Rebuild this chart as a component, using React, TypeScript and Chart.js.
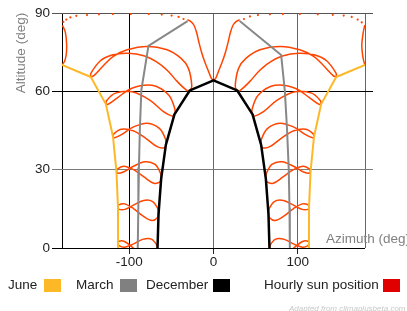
import React, { useEffect, useRef } from 'react';
import { Chart, registerables } from 'chart.js';

Chart.register(...registerables);

type P = [number, number];

const FONT = "'Liberation Sans', Arial, Helvetica, sans-serif";
const RED = '#ff4500';

// axis ticks
const xTicks = [-180, -100, 0, 100, 180];
const yTicks = [0, 30, 60, 90];

// solstice / equinox day paths (azimuth deg, altitude deg)
const juneMorning: P[] = [[-180, 70.1], [-145.8, 65.5], [-127.9, 55.1], [-119.4, 42.6], [-115.3, 29.2], [-113.5, 15.6], [-113.4, 1.8], [-113.4, 0]];
const juneAfternoon: P[] = [[180, 70.1], [145.8, 65.5], [127.9, 55.1], [119.4, 42.6], [115.3, 29.2], [113.5, 15.6], [113.4, 1.8], [113.4, 0]];
const marchMorning: P[] = [[-30.8, 86.9], [-77.3, 77.4], [-85.7, 60.5], [-87.5, 45.5], [-88.6, 30.6], [-89.3, 15.6], [-90, 0]];
const marchAfternoon: P[] = [[31.1, 86.9], [80.4, 73.9], [84.8, 60.0], [87.4, 45.2], [89.4, 30.2], [90.3, 15.2], [90.7, 0]];
const decemberPath: P[] = [[-66.5, 0], [-65.3, 13.1], [-62.2, 26.5], [-56.6, 39.5], [-46.4, 51.2], [-28.0, 60.4], [0, 64.2], [28.0, 60.4], [46.4, 51.2], [56.6, 39.5], [62.2, 26.5], [65.3, 13.1], [66.5, 0]];

// hourly analemmas, morning
const loop06: P[] = [[-113.4, 1.8], [-112.2, 0.9], [-105.5, 0.3], [-95.6, 1.5], [-84.1, 3.3], [-73.8, 3.4], [-67.4, 1.1], [-66.6, -0.6], [-67.5, -2.1], [-73.9, -3.9], [-84.3, -2.7], [-95.6, 0.1], [-105.8, 2.5], [-112.3, 2.6], [-113.4, 1.8]];
const loop07: P[] = [[-113.5, 15.6], [-112.2, 14.8], [-105.3, 14.8], [-95.1, 16.4], [-83.1, 18.2], [-72.3, 17.8], [-65.9, 14.9], [-65.3, 13.1], [-66.3, 11.7], [-73.0, 10.5], [-83.5, 12.2], [-95.1, 15.1], [-105.7, 16.9], [-112.5, 16.5], [-113.5, 15.6]];
const loop08: P[] = [[-115.3, 29.2], [-113.8, 28.6], [-106.3, 29.2], [-95.0, 31.3], [-81.5, 33.0], [-69.4, 32.0], [-62.7, 28.4], [-62.2, 26.5], [-63.5, 25.3], [-70.9, 24.8], [-82.2, 27.1], [-95.0, 30.0], [-106.9, 31.3], [-114.2, 30.2], [-115.3, 29.2]];
const loop09: P[] = [[-119.4, 42.6], [-117.6, 42.2], [-108.8, 43.5], [-95.5, 46.3], [-78.7, 47.8], [-64.0, 45.7], [-56.7, 41.4], [-56.6, 39.5], [-58.3, 38.4], [-66.9, 38.8], [-80.0, 41.9], [-95.4, 44.9], [-109.8, 45.5], [-118.4, 43.7], [-119.4, 42.6]];
const loop10: P[] = [[-127.9, 55.1], [-125.5, 55.0], [-114.7, 57.4], [-97.0, 61.2], [-72.8, 62.3], [-53.3, 58.6], [-45.8, 53.1], [-46.4, 51.2], [-48.9, 50.5], [-59.4, 52.2], [-75.7, 56.6], [-96.7, 59.8], [-116.6, 59.3], [-127.1, 56.4], [-127.9, 55.1]];
const loop11: P[] = [[-145.8, 65.5], [-142.5, 65.9], [-129.8, 70.2], [-119.0, 73.4], [-102.6, 75.9], [-79.4, 77.2], [-55.1, 75.9], [-38.5, 72.6], [-29.8, 68.8], [-25.8, 62.1], [-28.0, 60.4], [-31.4, 60.3], [-43.8, 64.0], [-53.0, 67.4], [-65.0, 70.7], [-81.8, 73.5], [-101.6, 74.6], [-120.7, 73.9], [-134.4, 71.7], [-145.7, 66.9], [-145.8, 65.5]];

// noon analemma pieces
const noonLeftInner: P[] = [[0, 64.2], [-2.6, 65.0], [-6.3, 68.0], [-10.2, 71.1], [-14.2, 75.0], [-17.5, 79.0], [-20.3, 82.8], [-23.5, 85.5], [-27.5, 86.9], [-31.0, 87.4]];
const noonRightInner: P[] = [[0, 64.2], [2.6, 65.0], [6.3, 68.0], [10.2, 71.1], [14.2, 75.0], [17.5, 79.0], [20.3, 82.8], [23.5, 85.5], [27.5, 86.9], [31.1, 87.4]];
const noonLeftEdge: P[] = [[-180, 70.1], [-177, 71.4], [-175, 74.0], [-174.5, 77.9], [-176, 82.6], [-179.5, 85.3]];
const noonRightEdge: P[] = [[180, 70.1], [178.7, 71.4], [177.2, 73.8], [176.2, 77.7], [177.8, 82.4], [179.8, 85.4]];
const topDotsLeft: P[] = [[-178.4, 86.6], [-174.9, 87.5], [-170.1, 88.3], [-163, 88.9], [-150.3, 89.2], [-136.1, 89.5], [-119.5, 89.6], [-98.2, 89.6], [-76.9, 89.6], [-61.5, 89.4], [-49.8, 89.0], [-41.5, 88.5], [-35.6, 87.7]];
const topDotsRight: P[] = [[36.2, 87.7], [43.3, 88.7], [52.8, 89.2], [67, 89.5], [82.4, 89.6], [102.6, 89.6], [123.9, 89.5], [141.7, 89.3], [154.7, 89.0], [164.2, 88.5], [171.3, 87.5], [176.1, 86.4]];

// hourly analemmas, afternoon
const loop13: P[] = [[145.8, 65.5], [142.5, 65.9], [129.8, 70.2], [119.0, 73.4], [102.6, 75.9], [79.4, 77.2], [55.1, 75.9], [38.5, 72.6], [29.8, 68.8], [25.8, 62.1], [28.0, 60.4], [31.4, 60.3], [43.8, 64.0], [53.0, 67.4], [65.0, 70.7], [81.8, 73.5], [101.6, 74.6], [120.7, 73.9], [134.4, 71.7], [145.7, 66.9], [145.8, 65.5]];
const loop14: P[] = [[127.9, 55.1], [125.5, 55.0], [114.7, 57.4], [97.0, 61.2], [72.8, 62.3], [53.3, 58.6], [45.8, 53.1], [46.4, 51.2], [48.9, 50.5], [59.4, 52.2], [75.7, 56.6], [96.7, 59.8], [116.6, 59.3], [127.1, 56.4], [127.9, 55.1]];
const loop15: P[] = [[119.4, 42.6], [117.6, 42.2], [108.8, 43.5], [95.5, 46.3], [78.7, 47.8], [64.0, 45.7], [56.7, 41.4], [56.6, 39.5], [58.3, 38.4], [66.9, 38.8], [80.0, 41.9], [95.4, 44.9], [109.8, 45.5], [118.4, 43.7], [119.4, 42.6]];
const loop16: P[] = [[115.3, 29.2], [113.8, 28.6], [106.3, 29.2], [95.0, 31.3], [81.5, 33.0], [69.4, 32.0], [62.7, 28.4], [62.2, 26.5], [63.5, 25.3], [70.9, 24.8], [82.2, 27.1], [95.0, 30.0], [106.9, 31.3], [114.2, 30.2], [115.3, 29.2]];
const loop17: P[] = [[113.5, 15.6], [112.2, 14.8], [105.3, 14.8], [95.1, 16.4], [83.1, 18.2], [72.3, 17.8], [65.9, 14.9], [65.3, 13.1], [66.3, 11.7], [73.0, 10.5], [83.5, 12.2], [95.1, 15.1], [105.7, 16.9], [112.5, 16.5], [113.5, 15.6]];
const loop18: P[] = [[113.4, 1.8], [112.2, 0.9], [105.5, 0.3], [95.6, 1.5], [84.1, 3.3], [73.8, 3.4], [67.4, 1.1], [66.6, -0.6], [67.5, -2.1], [73.9, -3.9], [84.3, -2.7], [95.6, 0.1], [105.8, 2.5], [112.3, 2.6], [113.4, 1.8]];

const hourlyCurves: P[][] = [loop06, loop07, loop08, loop09, loop10, loop11, noonLeftInner, noonRightInner, noonLeftEdge, noonRightEdge, loop13, loop14, loop15, loop16, loop17, loop18];

const legendItems = [
  { label: 'June', color: '#fdb827', textX: 8, boxX: 44 },
  { label: 'March', color: '#808080', textX: 76, boxX: 120 },
  { label: 'December', color: '#000000', textX: 146, boxX: 213 },
  { label: 'Hourly sun position', color: '#e00000', textX: 264, boxX: 383 },
];

const xGridColor = (v: number) => (v === -180 || v === -100 ? '#000000' : '#666666');
const yGridColor = (v: number) => (v === 0 || v === 60 ? '#000000' : v === 30 ? '#7a7a7a' : '#555555');

export default function App() {
  const canvasRef = useRef<HTMLCanvasElement | null>(null);

  useEffect(() => {
    const canvas = canvasRef.current;
    if (!canvas) return;
    const xy = (a: P[]) => a.map(([x, y]) => ({ x, y }));
    const path = (data: P[], color: string, width: number) => ({
      data: xy(data), showLine: true, borderColor: color, backgroundColor: color,
      borderWidth: width, pointRadius: 0, tension: 0, borderJoinStyle: 'round' as const,
    });
    const curve = (data: P[]) => ({
      data: xy(data), showLine: true, borderColor: RED, backgroundColor: RED,
      borderWidth: 1.5, pointRadius: 0, tension: 0.35,
    });
    const dots = (data: P[]) => ({
      data: xy(data), showLine: false, pointRadius: 1.1, pointBorderWidth: 0,
      backgroundColor: RED, borderColor: RED,
    });

    const datasets: any[] = [
      path(decemberPath, '#000000', 2.5),
      path(marchMorning, '#888888', 2),
      path(marchAfternoon, '#888888', 2),
      path(juneMorning, '#fdb827', 2),
      path(juneAfternoon, '#fdb827', 2),
      ...hourlyCurves.map(curve),
      dots(topDotsLeft),
      dots(topDotsRight),
    ];

    const tickFont = { family: FONT, size: 13.5 };

    const chart = new Chart(canvas, {
      type: 'scatter',
      data: { datasets },
      options: {
        responsive: false,
        animation: false,
        events: [],
        layout: { padding: { top: 13, left: 0, right: 0, bottom: 0 } },
        plugins: { legend: { display: false }, tooltip: { enabled: false } },
        scales: {
          x: {
            type: 'linear', min: -180, max: 180,
            afterBuildTicks: (s: any) => { s.ticks = xTicks.map((v) => ({ value: v })); },
            afterFit: (s: any) => { s.height = 63; },
            border: { display: false },
            grid: {
              lineWidth: 1, tickLength: 6,
              color: (ctx: any) => xGridColor(ctx.tick ? ctx.tick.value : 0),
              tickColor: (ctx: any) => {
                const v = ctx.tick ? ctx.tick.value : 0;
                return v === -180 || v === 180 ? 'rgba(0,0,0,0)' : '#222222';
              },
            },
            ticks: {
              font: tickFont, color: '#222222', padding: 0, autoSkip: false, maxRotation: 0,
              callback: (v: any) => (v === -180 || v === 180 ? '' : String(v)),
            },
          },
          y: {
            type: 'linear', position: 'left', min: 0, max: 90,
            afterBuildTicks: (s: any) => { s.ticks = yTicks.map((v) => ({ value: v })); },
            afterFit: (s: any) => { s.width = 62; },
            border: { display: false },
            grid: {
              lineWidth: 1, tickLength: 10,
              color: (ctx: any) => yGridColor(ctx.tick ? ctx.tick.value : 0),
              tickColor: (ctx: any) => yGridColor(ctx.tick ? ctx.tick.value : 0),
            },
            ticks: { font: tickFont, color: '#222222', padding: 2 },
          },
          y2: {
            type: 'linear', position: 'right', min: 0, max: 90,
            afterBuildTicks: (s: any) => { s.ticks = yTicks.map((v) => ({ value: v })); },
            afterFit: (s: any) => { s.width = 42; },
            border: { display: false },
            grid: {
              drawOnChartArea: false, lineWidth: 1, tickLength: 8,
              tickColor: (ctx: any) => {
                const v = ctx.tick ? ctx.tick.value : 0;
                return v === 0 ? 'rgba(0,0,0,0)' : yGridColor(v);
              },
            },
            ticks: { display: false },
          },
        },
      } as any,
    });
    return () => chart.destroy();
  }, []);

  return (
    <div style={{ position: 'absolute', left: 0, top: 0, width: 407, height: 311, overflow: 'hidden', fontFamily: FONT, background: '#ffffff' }}>
      <canvas ref={canvasRef} width={407} height={311} style={{ display: 'block', width: 407, height: 311 }} />
      <div style={{ position: 'absolute', left: 20.5, top: 52.5, transform: 'translate(-50%,-50%) rotate(-90deg)', whiteSpace: 'nowrap', fontSize: 13.5, lineHeight: 1, color: '#808080' }}>Altitude (deg)</div>
      <div style={{ position: 'absolute', left: 326, top: 231.5, whiteSpace: 'nowrap', fontSize: 13.5, lineHeight: 1, color: '#808080' }}>Azimuth (deg)</div>
      {legendItems.map((it) => (
        <React.Fragment key={it.label}>
          <div style={{ position: 'absolute', left: it.textX, top: 278, whiteSpace: 'nowrap', fontSize: 13.5, lineHeight: 1, color: '#222222' }}>{it.label}</div>
          <div style={{ position: 'absolute', left: it.boxX, top: 279, width: 17, height: 13, background: it.color }} />
        </React.Fragment>
      ))}
      <div style={{ position: 'absolute', left: 289, top: 304.5, whiteSpace: 'nowrap', fontSize: 8, lineHeight: 1, fontStyle: 'italic', color: '#c8c8c8' }}>Adapted from climaplusbeta.com</div>
    </div>
  );
}
